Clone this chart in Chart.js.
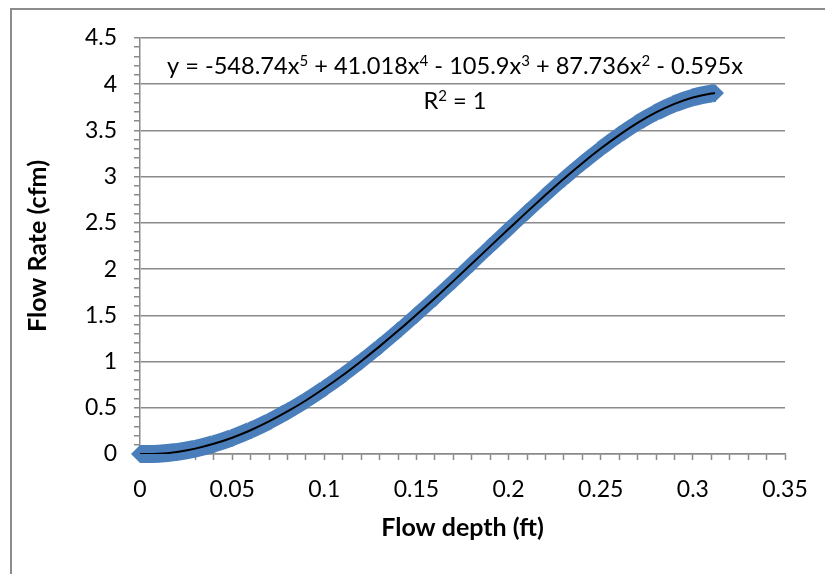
<!DOCTYPE html>
<html>
<head>
<meta charset="utf-8">
<script src="https://cdn.jsdelivr.net/npm/chart.js@4.4.1/dist/chart.umd.min.js"></script>
<style>
  html, body { margin: 0; padding: 0; background: #fff; }
  #wrap { position: relative; width: 825px; height: 574px; overflow: hidden; }
  #frame { position: absolute; left: 10px; top: 8px; width: 900px; height: 700px;
           border: 2px solid #8c8c8c; box-sizing: border-box; }
  #box { position: absolute; left: 0; top: 0; width: 825px; height: 574px; }
</style>
</head>
<body>
<div id="wrap">
  <div id="frame"></div>
  <div id="box"><canvas id="flowChart"></canvas></div>
</div>
<script>
// values
const flowDepth = [0, 0.01, 0.02, 0.03, 0.04, 0.05, 0.06, 0.07, 0.08, 0.09, 0.10,
  0.11, 0.12, 0.13, 0.14, 0.15, 0.16, 0.17, 0.18, 0.19, 0.20,
  0.21, 0.22, 0.23, 0.24, 0.25, 0.26, 0.27, 0.28, 0.29, 0.30, 0.31, 0.312];
const flowRate = [0, 0.003, 0.022, 0.058, 0.11, 0.176, 0.257, 0.352, 0.46, 0.579, 0.711,
  0.852, 1.004, 1.164, 1.332, 1.507, 1.686, 1.87, 2.057, 2.246, 2.433,
  2.619, 2.801, 2.978, 3.146, 3.304, 3.45, 3.582, 3.695, 3.788, 3.857, 3.9, 3.905];

const xTickLabels = ['0', '0.05', '0.1', '0.15', '0.2', '0.25', '0.3', '0.35'];
const yTickLabels = ['0', '0.5', '1', '1.5', '2', '2.5', '3', '3.5', '4', '4.5'];

const eqParts = [
  { t: 'y = -548.74x' }, { t: '5', sup: true },
  { t: ' + 41.018x' }, { t: '4', sup: true },
  { t: ' - 105.9x' }, { t: '3', sup: true },
  { t: ' + 87.736x' }, { t: '2', sup: true },
  { t: ' - 0.595x' }
];
const r2Parts = [{ t: 'R' }, { t: '2', sup: true }, { t: ' = 1' }];

const BLUE = '#4a7ebb';
const GREY = '#8a8a8a';
const FONT = "Lato, 'Open Sans', sans-serif";
const MARK = 9; // diamond half size

const points = flowDepth.map((x, i) => ({ x, y: flowRate[i] }));

// draws text with superscript runs, centred on cx
function drawRich(ctx, parts, cx, cy, size) {
  const supSize = Math.round(size * 0.62);
  let w = 0;
  parts.forEach(p => {
    ctx.font = (p.sup ? supSize : size) + 'px ' + FONT;
    p.w = ctx.measureText(p.t).width;
    w += p.w;
  });
  let x = cx - w / 2;
  ctx.textBaseline = 'alphabetic';
  ctx.textAlign = 'left';
  const base = cy + size * 0.36;
  parts.forEach(p => {
    ctx.font = (p.sup ? supSize : size) + 'px ' + FONT;
    ctx.fillText(p.t, x, p.sup ? base - size * 0.38 : base);
    x += p.w;
  });
}

const trendLabel = {
  id: 'trendLabel',
  afterDraw(chart) {
    const ctx = chart.ctx;
    ctx.save();
    ctx.fillStyle = '#000';
    drawRich(ctx, eqParts, 455, 66, 23.6);
    drawRich(ctx, r2Parts, 455, 101, 23.6);
    ctx.restore();
  }
};

// band width follows the diamond markers' envelope
function bandWidth(c) {
  const dx = c.p1.x - c.p0.x, dy = c.p1.y - c.p0.y;
  const len = Math.hypot(dx, dy) || 1;
  return 2 * MARK * Math.max(Math.abs(dy / len), Math.abs(dx / len));
}

new Chart(document.getElementById('flowChart'), {
  type: 'scatter',
  data: {
    datasets: [
      {
        label: 'Trendline',
        data: points,
        showLine: true,
        borderColor: '#000',
        borderWidth: 2,
        pointRadius: 0,
        cubicInterpolationMode: 'monotone',
        order: 0
      },
      {
        label: 'Flow',
        data: points,
        showLine: true,
        clip: false,
        borderColor: BLUE,
        backgroundColor: BLUE,
        borderCapStyle: 'butt',
        cubicInterpolationMode: 'monotone',
        segment: { borderWidth: bandWidth },
        pointStyle: 'rectRot',
        pointRadius: MARK,
        pointBorderWidth: 0,
        pointBackgroundColor: BLUE,
        order: 1
      }
    ]
  },
  options: {
    responsive: true,
    maintainAspectRatio: false,
    animation: false,
    events: [],
    layout: { padding: { left: 0, top: 38, right: 40, bottom: 0 } },
    plugins: { legend: { display: false }, tooltip: { enabled: false } },
    scales: {
      x: {
        type: 'linear',
        min: 0, max: 0.35,
        afterFit: s => { s.height = 120; },
        border: { color: GREY, width: 1.5 },
        grid: { drawOnChartArea: false, tickLength: 6, tickColor: GREY, tickWidth: 1.5 },
        ticks: {
          stepSize: 0.01, autoSkip: false, maxRotation: 0, padding: 16,
          color: '#000', font: { family: FONT, size: 23 },
          callback: v => { const k = Math.round(v * 100); return k % 5 === 0 ? xTickLabels[k / 5] : ''; }
        },
        title: {
          display: true, text: 'Flow depth (ft)', color: '#000',
          font: { family: FONT, size: 25, weight: 'bold' },
          padding: { top: 0, bottom: 31 }
        }
      },
      y: {
        type: 'linear',
        min: 0, max: 4.5,
        afterFit: s => { s.width = 140; },
        border: { color: GREY, width: 1.5 },
        grid: {
          tickLength: 6, tickWidth: 1.5, lineWidth: 1.5, tickColor: GREY,
          color: c => (Math.round(c.tick.value * 10) % 5 === 0 ? GREY : 'rgba(0,0,0,0)')
        },
        ticks: {
          stepSize: 0.1, autoSkip: false, padding: 17,
          color: '#000', font: { family: FONT, size: 23 },
          callback: v => { const k = Math.round(v * 10); return k % 5 === 0 ? yTickLabels[k / 5] : ''; }
        },
        title: {
          display: true, text: 'Flow Rate (cfm)', color: '#000',
          font: { family: FONT, size: 25, weight: 'bold' },
          padding: { top: 23, bottom: 0 }
        }
      }
    }
  },
  plugins: [trendLabel]
});
</script>
</body>
</html>
